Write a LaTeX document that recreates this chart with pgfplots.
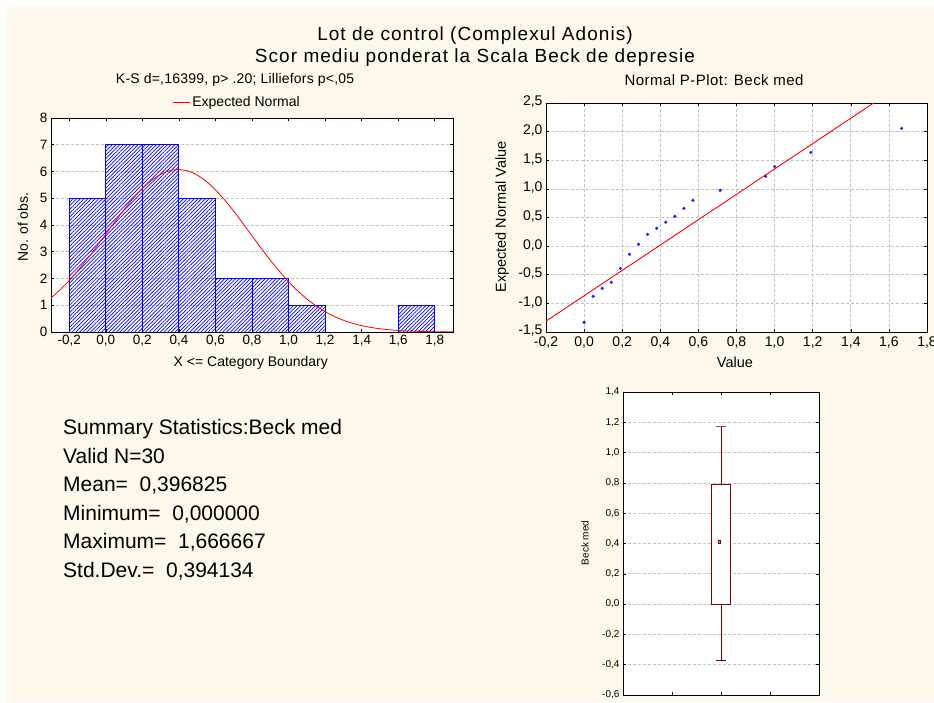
\documentclass[border=0pt]{standalone}
\usepackage{fontspec}
\setmainfont{Liberation Sans}
\newfontfamily\lsA[LetterSpace=5.5]{Liberation Sans}
\newfontfamily\lsB[LetterSpace=3.2]{Liberation Sans}
\newfontfamily\lsC[LetterSpace=1.5]{Liberation Sans}
\usepackage{pgfplots}
\pgfplotsset{compat=1.18}
\usetikzlibrary{patterns.meta}
\definecolor{cream}{RGB}{255,249,237}
\definecolor{boxred}{RGB}{128,0,0}
\definecolor{gridgray}{RGB}{195,195,195}
\definecolor{ptblue}{RGB}{30,30,255}

\pgfplotsset{
  stat/.style={
    scale only axis,
    axis background/.style={fill=white},
    axis line style={black, line width=0.9pt},
    /pgf/number format/assume math mode=true,
    tick style={black, line width=0.6pt},
    major tick length=3pt,
    grid style={gridgray, dash pattern=on 3pt off 2pt, line width=0.7pt},
    label style={font=\fontsize{14}{14}\selectfont},
    title style={font=\fontsize{14}{14}\selectfont},
    tick label style={font=\fontsize{13.5}{13.5}\selectfont},
  },
  commax/.style={xticklabel style={/pgf/number format/fixed, /pgf/number format/fixed zerofill, /pgf/number format/precision=1, /pgf/number format/use comma}},
  commay/.style={yticklabel style={/pgf/number format/fixed, /pgf/number format/fixed zerofill, /pgf/number format/precision=1, /pgf/number format/use comma}},
}

\begin{document}
\begin{tikzpicture}
\useasboundingbox (0,0) rectangle (934pt,702pt);
\fill[white] (0,0) rectangle (934pt,702pt);
\fill[cream] (6pt,0) rectangle (934pt,695pt);

\node[font=\lsA\fontsize{19}{22}\selectfont, align=center] at (475pt,655pt)
  {Lot de control (Complexul Adonis)\\Scor mediu ponderat la Scala Beck de depresie};

% ---------------- Histogram ----------------
\begin{axis}[stat, commax,
  at={(51pt,370pt)}, anchor=south west,
  width=402pt, height=214pt,
  xmin=-0.3, xmax=1.9, ymin=0, ymax=8,
  xtick={-0.2,0,0.2,0.4,0.6,0.8,1.0,1.2,1.4,1.6,1.8},
  ytick={0,1,2,3,4,5,6,7,8},
  ymajorgrids,
  title={K-S d=,16399, p> .20; Lilliefors p<,05},
  title style={at={(axis description cs:0.458,1.15)}, anchor=center, font=\lsC\fontsize{14}{14}\selectfont},
  xlabel={X <= Category Boundary},
  xlabel style={at={(axis description cs:0.497,-0.145)}, anchor=center},
  ylabel={No. of obs.},
  ylabel style={at={(axis description cs:-0.07,0.49)}, anchor=center},
  legend style={at={(axis description cs:0.463,1.075)}, anchor=center, draw=none, fill=none,
    font=\fontsize{14}{14}\selectfont, inner sep=0pt},
  legend cell align=left,
]
\addplot[ybar interval, draw=blue, line width=0.9pt,
  pattern={Lines[angle=45,distance=2.6pt,line width=0.7pt]}, pattern color=blue, forget plot]
  coordinates {(-0.2,5)(0,7)(0.2,7)(0.4,5)(0.6,2)(0.8,2)(1.0,1)(1.2,1)};
\addplot[ybar interval, draw=blue, line width=0.9pt,
  pattern={Lines[angle=45,distance=2.6pt,line width=0.7pt]}, pattern color=blue, forget plot]
  coordinates {(1.6,1)(1.8,1)};
\addplot[red, line width=0.8pt, smooth] coordinates {
(-0.30,1.272)(-0.25,1.580)(-0.20,1.929)(-0.15,2.319)(-0.10,2.744)(-0.05,3.194)
(0.00,3.658)(0.05,4.124)(0.10,4.574)(0.15,4.992)(0.20,5.361)(0.25,5.666)
(0.30,5.893)(0.35,6.030)(0.40,6.073)(0.45,6.018)(0.50,5.868)(0.55,5.631)
(0.60,5.317)(0.65,4.940)(0.70,4.518)(0.75,4.064)(0.80,3.598)(0.85,3.135)
(0.90,2.688)(0.95,2.268)(1.00,1.882)(1.05,1.538)(1.10,1.236)(1.15,0.978)
(1.20,0.761)(1.25,0.583)(1.30,0.439)(1.35,0.326)(1.40,0.238)(1.45,0.171)
(1.50,0.121)(1.55,0.084)(1.60,0.058)(1.65,0.039)(1.70,0.026)(1.75,0.017)
(1.80,0.011)(1.85,0.007)(1.90,0.004)};
\addlegendentry{Expected Normal}
\end{axis}

% ---------------- Normal P-Plot ----------------
\begin{axis}[stat, commax, commay,
  at={(546pt,370pt)}, anchor=south west,
  width=381pt, height=229pt,
  xmin=-0.2, xmax=1.8, ymin=-1.5, ymax=2.5,
  xtick={-0.2,0,0.2,0.4,0.6,0.8,1.0,1.2,1.4,1.6,1.8},
  ytick={-1.5,-1.0,-0.5,0,0.5,1.0,1.5,2.0,2.5},
  grid=major,
  tick label style={font=\fontsize{14}{14}\selectfont},
  xticklabel style={yshift=-1pt},
  yticklabel style={yshift=1pt},
  label style={font=\fontsize{14.5}{14.5}\selectfont},
  title={Normal P-Plot: Beck med},
  title style={at={(axis description cs:0.441,1.074)}, anchor=center, font=\lsB\fontsize{15}{15}\selectfont},
  xlabel={Value},
  xlabel style={at={(axis description cs:0.496,-0.131)}, anchor=center},
  ylabel={Expected Normal Value},
  ylabel style={at={(axis description cs:-0.1155,0.502)}, anchor=center},
]
\addplot[red, line width=0.9pt] coordinates {(-0.2,-1.31)(1.52,2.5)};
\addplot[only marks, mark=*, mark size=1.4pt, ptblue] coordinates {
(0.0000,-1.33)(0.0476,-0.877)(0.0952,-0.737)(0.1429,-0.632)(0.1905,-0.388)
(0.2381,-0.143)(0.2857,0.031)(0.3333,0.206)(0.3810,0.311)(0.4286,0.416)
(0.4762,0.520)(0.5238,0.660)(0.5714,0.800)(0.7143,0.975)(0.9524,1.219)
(1.0000,1.388)(1.1905,1.638)(1.6667,2.057)};
\end{axis}

% ---------------- Box plot ----------------
\begin{axis}[stat, commay,
  at={(623pt,7pt)}, anchor=south west,
  width=196pt, height=303pt,
  xmin=0, xmax=4, ymin=-0.6, ymax=1.4,
  xtick={1,2,3}, xticklabels={},
  ytick={-0.6,-0.4,-0.2,0,0.2,0.4,0.6,0.8,1.0,1.2,1.4},
  ymajorgrids,
  tick label style={font=\fontsize{10}{10}\selectfont},
  label style={font=\fontsize{10}{10}\selectfont},
  ylabel={Beck med},
  ylabel style={at={(axis description cs:-0.194,0.502)}, anchor=center},
]
\addplot[boxred, line width=1pt] coordinates {(2,0.79)(2,1.17)};
\addplot[boxred, line width=1pt] coordinates {(2,0)(2,-0.375)};
\addplot[boxred!70, line width=1.3pt] coordinates {(1.9,1.17)(2.1,1.17)};
\addplot[boxred, line width=1pt] coordinates {(1.9,-0.375)(2.1,-0.375)};
\addplot[boxred, line width=1pt, fill=white] coordinates {(1.8,0)(2.2,0)(2.2,0.79)(1.8,0.79)(1.8,0)};
\addplot[only marks, mark=square*, mark size=1.3pt, boxred, mark options={fill=boxred!35}] coordinates {(1.96,0.41)};
\end{axis}

% ---------------- Summary statistics ----------------
\begin{scope}[every node/.style={anchor=base west, inner sep=0pt, font=\fontsize{21}{21}\selectfont}]
\node at (63pt,267pt) {Summary Statistics:Beck med};
\node at (63pt,238.6pt) {Valid N=30};
\node at (63pt,210.2pt) {Mean=\ \ 0,396825};
\node at (63pt,181.8pt) {Minimum=\ \ 0,000000};
\node at (63pt,153.4pt) {Maximum=\ \ 1,666667};
\node at (63pt,125pt) {Std.Dev.=\ \ 0,394134};
\end{scope}
\end{tikzpicture}
\end{document}
